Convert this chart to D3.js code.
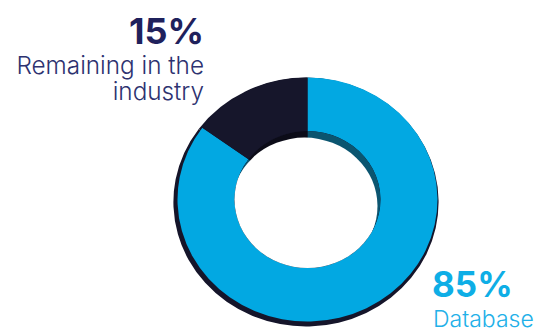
<!DOCTYPE html>
<html>
<head>
<meta charset="utf-8">
<script src="https://cdn.jsdelivr.net/npm/d3@7"></script>
<style>
  body { margin: 0; background: #fff; }
  text { font-family: Inter, "Open Sans", sans-serif; }
</style>
</head>
<body>
<div id="chart"></div>
<script>
// Data
let categories = ['Database', 'Remaining in the industry'];
let values = [85, 15];
let colors = ['#02a8e2', '#16162b'];
let wallColors = ['#0b5570', '#0c0c18'];

// Dimensions
let width = 543;
let height = 332;
let cx = 307.5, cy = 199.5;
let rOuter = 130, rInner = 73;
let squash = 122 / 130;

let svg = d3.select('#chart')
  .append('svg')
  .attr('width', width)
  .attr('height', height);

let pie = d3.pie().sort(null).value(d => d);
let slices = pie(values);

let ring = svg.append('g')
  .attr('transform', `translate(${cx},${cy}) scale(1,${squash})`);

// extruded edge (bottom-left)
ring.append('g')
  .attr('transform', 'translate(-1.5,2.7)')
  .selectAll('path')
  .data(slices)
  .enter()
  .append('path')
  .attr('d', d3.arc().innerRadius(0).outerRadius(rOuter + 2.6))
  .attr('fill', '#15152a');

// face
ring.selectAll('.slice')
  .data(slices)
  .enter()
  .append('path')
  .attr('class', 'slice')
  .attr('d', d3.arc().innerRadius(rInner).outerRadius(rOuter))
  .attr('fill', (d, i) => colors[i]);

// hole with inner wall visible at top-right
svg.append('defs').append('clipPath')
  .attr('id', 'hole')
  .append('circle')
  .attr('r', rInner);

let hole = ring.append('g').attr('clip-path', 'url(#hole)');
hole.selectAll('path')
  .data(slices)
  .enter()
  .append('path')
  .attr('d', d3.arc().innerRadius(0).outerRadius(rInner))
  .attr('fill', (d, i) => wallColors[i]);
hole.append('circle')
  .attr('cx', -3)
  .attr('cy', 7)
  .attr('r', rInner)
  .attr('fill', '#fff');

// Labels
let pct = d => `${d}%`;

svg.append('text')
  .attr('x', 204)
  .attr('y', 44)
  .attr('text-anchor', 'end')
  .attr('font-size', 36)
  .attr('font-weight', 700)
  .attr('fill', '#1f215c')
  .text(pct(values[1]));

let leftLabel = svg.append('text')
  .attr('text-anchor', 'end')
  .attr('font-size', 24.3)
  .attr('font-weight', 300)
  .attr('fill', '#2d3270');
['Remaining in the', 'industry'].forEach((t, i) => {
  leftLabel.append('tspan')
    .attr('x', 204)
    .attr('y', 74 + i * 26)
    .text(t);
});

svg.append('text')
  .attr('x', 432)
  .attr('y', 297)
  .attr('font-size', 35)
  .attr('font-weight', 700)
  .attr('fill', '#0eaee6')
  .text(pct(values[0]));

svg.append('text')
  .attr('x', 433)
  .attr('y', 327)
  .attr('font-size', 23)
  .attr('font-weight', 300)
  .attr('fill', '#22b0e8')
  .text(categories[0]);
</script>
</body>
</html>
